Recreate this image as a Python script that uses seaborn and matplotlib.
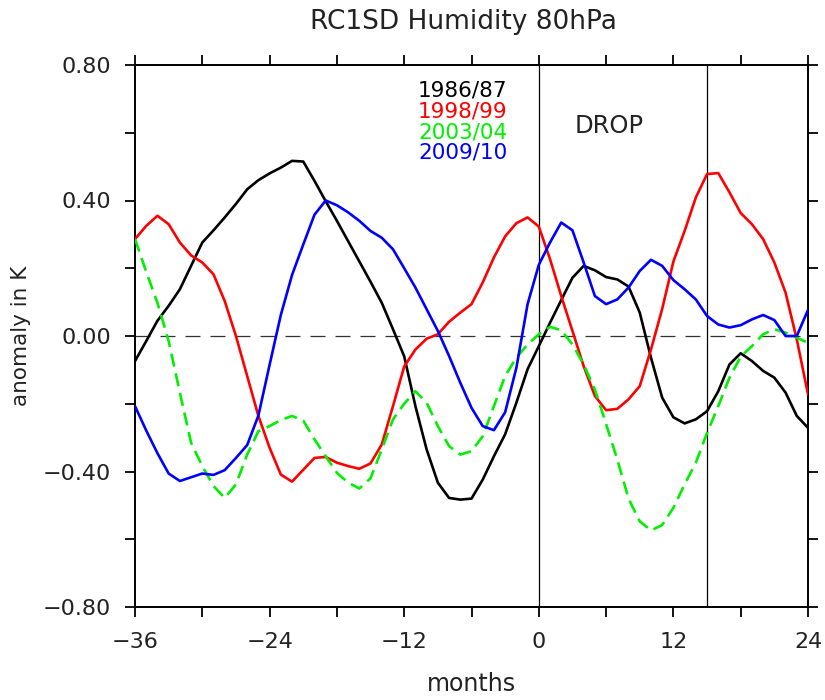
import numpy as np
import pandas as pd
import matplotlib
matplotlib.use("Agg")
import matplotlib.pyplot as plt
from matplotlib.ticker import MultipleLocator, FuncFormatter
import seaborn as sns

months = list(range(-36, 25))

s1986 = [-0.074, -0.015, 0.045, 0.089, 0.138, 0.207, 0.276, 0.312, 0.350, 0.390,
         0.433, 0.460, 0.480, 0.497, 0.517, 0.515, 0.458, 0.398, 0.340, 0.280,
         0.220, 0.160, 0.098, 0.020, -0.060, -0.207, -0.335, -0.433, -0.478, -0.483,
         -0.480, -0.424, -0.355, -0.290, -0.197, -0.098, -0.030, 0.039, 0.106, 0.172,
         0.207, 0.194, 0.174, 0.167, 0.146, 0.069, -0.064, -0.182, -0.240, -0.258,
         -0.246, -0.222, -0.163, -0.084, -0.051, -0.074, -0.103, -0.123, -0.167, -0.236,
         -0.271]

s1998 = [0.286, 0.325, 0.355, 0.330, 0.276, 0.238, 0.217, 0.182, 0.103, 0.000,
         -0.118, -0.236, -0.330, -0.409, -0.430, -0.395, -0.360, -0.357, -0.374, -0.384,
         -0.392, -0.376, -0.320, -0.207, -0.090, -0.040, -0.008, 0.005, 0.042, 0.069,
         0.094, 0.158, 0.232, 0.294, 0.333, 0.350, 0.323, 0.227, 0.118, 0.015,
         -0.089, -0.177, -0.219, -0.215, -0.187, -0.148, -0.040, 0.080, 0.220, 0.310,
         0.409, 0.478, 0.481, 0.424, 0.363, 0.330, 0.286, 0.217, 0.128, -0.010,
         -0.172]

s2003 = [0.286, 0.190, 0.098, -0.015, -0.167, -0.315, -0.384, -0.443, -0.478, -0.438,
         -0.350, -0.281, -0.266, -0.248, -0.236, -0.250, -0.305, -0.355, -0.404, -0.433,
         -0.450, -0.420, -0.335, -0.246, -0.200, -0.163, -0.197, -0.266, -0.325, -0.350,
         -0.340, -0.296, -0.207, -0.118, -0.064, -0.025, 0.005, 0.027, 0.017, -0.025,
         -0.084, -0.158, -0.260, -0.365, -0.480, -0.547, -0.574, -0.558, -0.507, -0.438,
         -0.374, -0.286, -0.207, -0.123, -0.061, -0.030, 0.005, 0.020, 0.010, -0.005,
         -0.020]

s2009 = [-0.207, -0.279, -0.346, -0.406, -0.428, -0.417, -0.406, -0.410, -0.396, -0.360,
         -0.322, -0.235, -0.085, 0.062, 0.180, 0.270, 0.358, 0.400, 0.386, 0.365,
         0.340, 0.310, 0.290, 0.256, 0.200, 0.143, 0.079, 0.015, -0.059, -0.138,
         -0.212, -0.266, -0.278, -0.225, -0.094, 0.094, 0.210, 0.276, 0.335, 0.312,
         0.217, 0.118, 0.094, 0.108, 0.143, 0.192, 0.225, 0.207, 0.165, 0.138,
         0.108, 0.059, 0.034, 0.025, 0.032, 0.049, 0.062, 0.047, 0.000, 0.000,
         0.077]

seasons = ["1986/87", "1998/99", "2003/04", "2009/10"]
colors = ["#000000", "#ff0000", "#00f000", "#0000ff"]
series = [s1986, s1998, s2003, s2009]

xticks = [-36, -24, -12, 0, 12, 24]
yticks = [-0.8, -0.4, 0.0, 0.4, 0.8]
vlines = [0, 15]

df = pd.concat([pd.DataFrame({"month": months, "value": v, "season": s})
                for s, v in zip(seasons, series)], ignore_index=True)

sns.set_theme(style="ticks")
plt.rcParams["font.family"] = ["DejaVu Sans"]

fig = plt.figure(figsize=(8.25, 7.0), dpi=100)
ax = fig.add_axes([135/825, 1-607/700, (808-135)/825, (607-65)/700])

# reference lines
ax.axhline(0, color="#333333", lw=0.9, dashes=(12, 8), zorder=1)
for xv in vlines:
    ax.axvline(xv, color="#000000", lw=0.9, zorder=1)

sns.lineplot(data=df, x="month", y="value", hue="season", style="season",
             palette=dict(zip(seasons, colors)),
             dashes={"1986/87": "", "1998/99": "", "2003/04": (5, 2.6), "2009/10": ""},
             linewidth=1.9, legend=False, ax=ax, zorder=3)

ax.set_xlim(-36, 24)
ax.set_ylim(-0.8, 0.8)
ax.set_xticks(xticks)
ax.set_yticks(yticks)
ax.xaxis.set_minor_locator(MultipleLocator(6))
ax.yaxis.set_minor_locator(MultipleLocator(0.2))
ax.yaxis.set_major_formatter(FuncFormatter(lambda v, p: f"{v:.2f}".replace("-", "\u2212")))
ax.tick_params(which="both", direction="out", length=7, width=1.3, color="black",
               top=True, right=True, labeltop=False, labelright=False,
               labelsize=16, labelcolor="#222222")
ax.tick_params(axis="y", which="both", pad=10)
ax.tick_params(axis="x", which="both", pad=11)
for sp in ax.spines.values():
    sp.set_linewidth(1.4)
    sp.set_color("black")
    sp.set_visible(True)

ax.set_xlabel("months", fontsize=17, color="#222222", va="center")
ax.xaxis.set_label_coords(0.5, (607-684)/542)
ax.set_ylabel("anomaly in K", fontsize=15.5, color="#222222", va="center")
ax.yaxis.set_label_coords((21-135)/673, 0.5)

fig.text(463/825, 1-22/700, "RC1SD Humidity 80hPa", fontsize=19,
         ha="center", va="center", color="#222222")

legend_y = [91, 111.5, 132, 152.5]
for s, c, yy in zip(seasons, colors, legend_y):
    fig.text(418/825, 1-yy/700, s, fontsize=15.5, color=c, ha="left", va="center")

fig.text(575/825, 1-126/700, "DROP", fontsize=17.5, color="#222222",
         ha="left", va="center")

fig.savefig("out.png", dpi=100)
